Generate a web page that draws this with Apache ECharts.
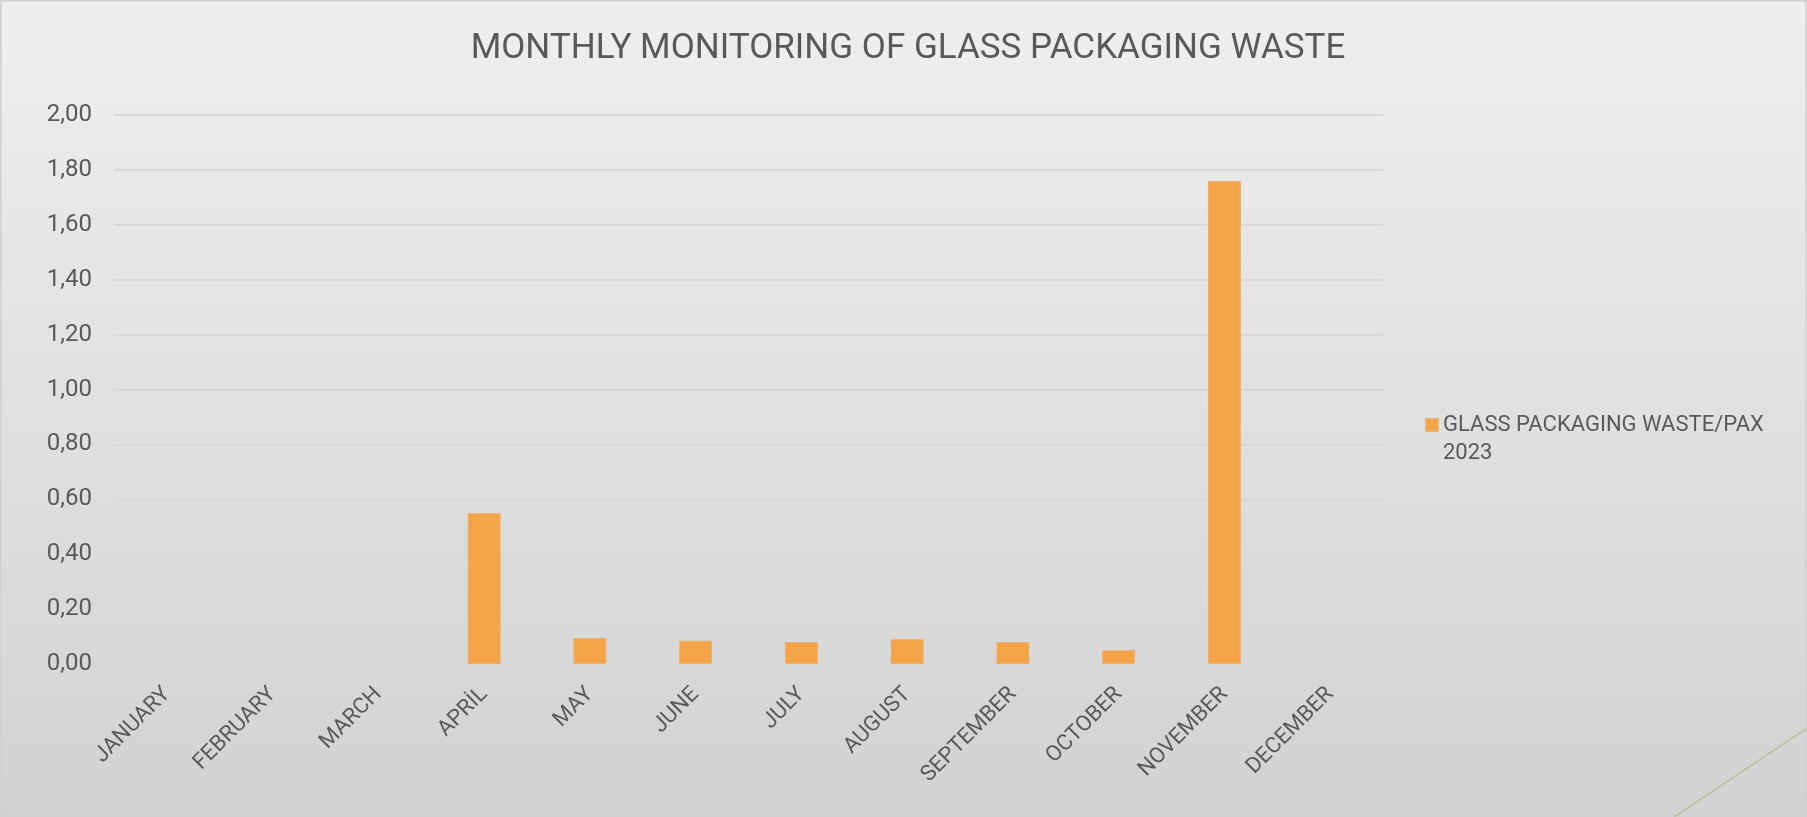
<!DOCTYPE html>
<html>
<head>
<meta charset="utf-8">
<title>Monthly monitoring of glass packaging waste</title>
<script src="https://cdn.jsdelivr.net/npm/echarts@6/dist/echarts.min.js"></script>
<style>
  html, body { margin: 0; padding: 0; }
  #chart { width: 1807px; height: 817px; }
</style>
</head>
<body>
<div id="chart"></div>
<script>
const months = ["JANUARY", "FEBRUARY", "MARCH", "APRİL", "MAY", "JUNE", "JULY", "AUGUST", "SEPTEMBER", "OCTOBER", "NOVEMBER", "DECEMBER"];
// values; empty months have no bar
const wastePerPax = [null, null, null, 0.55, 0.095, 0.085, 0.08, 0.09, 0.08, 0.05, 1.76, null];
const seriesName = "GLASS PACKAGING WASTE/PAX 2023";
const titleText = "MONTHLY MONITORING OF GLASS PACKAGING WASTE";

const textGrey = "#595959";
const font = "Roboto";

const chart = echarts.init(document.getElementById("chart"));

const option = {
  backgroundColor: {
    type: "linear", x: 0, y: 0, x2: 0, y2: 1,
    colorStops: [
      { offset: 0, color: "#efefef" },
      { offset: 1, color: "#d2d2d2" }
    ]
  },
  textStyle: { fontFamily: font },
  title: {
    text: titleText,
    left: 903,
    textAlign: "center",
    top: 27,
    textStyle: { color: textGrey, fontFamily: font, fontSize: 35, fontWeight: "normal" }
  },
  legend: {
    left: 1420,
    top: 378,
    itemWidth: 12,
    itemHeight: 12,
    icon: "rect",
    // leading blank line keeps the square beside the first text line
    formatter: name => "\n" + name.replace(" 2023", "\n2023"),
    textStyle: { color: textGrey, fontFamily: font, fontSize: 22, lineHeight: 28 }
  },
  grid: { left: 114, right: 424, top: 115, bottom: 153 },
  xAxis: {
    type: "category",
    data: months,
    axisLine: { show: false },
    axisTick: { show: false },
    axisLabel: {
      rotate: 45,
      interval: 0,
      margin: 27,
      color: textGrey,
      fontFamily: font,
      fontSize: 22
    }
  },
  yAxis: {
    type: "value",
    min: 0,
    max: 2,
    interval: 0.2,
    axisLine: { show: false },
    axisTick: { show: false },
    axisLabel: {
      margin: 22,
      color: textGrey,
      fontFamily: font,
      fontSize: 24,
      formatter: v => v.toFixed(2).replace(".", ",")
    },
    splitLine: { lineStyle: { color: "#d9d9d9", width: 2 } }
  },
  series: [
    {
      name: seriesName,
      type: "bar",
      data: wastePerPax,
      barWidth: 33,
      itemStyle: { color: "#f3a447", borderColor: "#f0b070", borderWidth: 1 }
    }
  ],
  graphic: [
    {
      type: "rect",
      shape: { x: 0.5, y: 0.5, width: 1806, height: 816 },
      style: { fill: null, stroke: "#d0d0d0", lineWidth: 2 },
      silent: true
    },
    {
      type: "line",
      shape: { x1: 1674, y1: 817, x2: 1807, y2: 728 },
      style: { stroke: "#b9c6a8", lineWidth: 2 },
      silent: true
    }
  ]
};

chart.setOption(option);
</script>
</body>
</html>
